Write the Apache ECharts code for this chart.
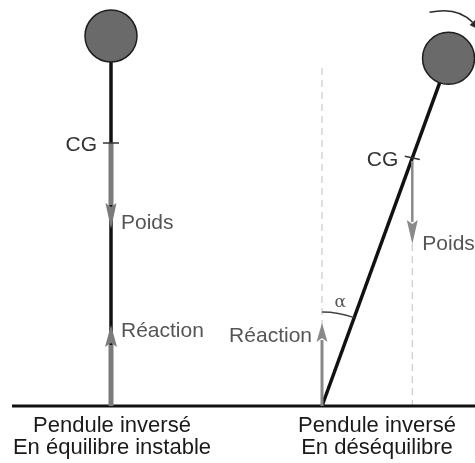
<!DOCTYPE html>
<html><head><meta charset="utf-8">
<script src="https://cdn.jsdelivr.net/npm/echarts@6/dist/echarts.min.js"></script>
<style>html,body{margin:0;padding:0;background:#fff}#c{width:475px;height:463px}</style>
</head><body><div id="c"></div>
<script>
// ---- Data (diagram geometry, in diagram units) ----
const pendulumTitles = ['Pendule inversé', 'Pendule inversé'];
const pendulumStates = ['En équilibre instable', 'En déséquilibre'];
const tiltAngles = [0, 20];          // degrees from vertical
const pivotX = [111, 322];           // where each rod meets the ground
const rodLength = [370, 370];
const cgDistance = [263, 264];       // from pivot along the rod
const weightLength = [86, 86];       // Poids arrow
const reactionLength = [81, 83];     // Réaction arrow
const verticalRefLength = [0, 338];  // dashed vertical reference
const groundY = 406;
const groundSpan = [12, 475];
const forceLabels = ['CG', 'Poids', 'Réaction'];
const angleLabel = 'α';

// ---- Layout / style ----
const FONT = '"Liberation Sans", Arial, Helvetica, sans-serif';
const FS = 21;
const FS_TITLE = 22;
const BOB_R = 26;
const ARC_R = 94;
const forceStyle = [
  {shaft: 5, headLen: 26, headW: 11, color: '#7b7b7b'},
  {shaft: 2.5, headLen: 24, headW: 11, color: '#8a8a8a'}
];
const reactStyle = [
  {shaft: 5, headLen: 22, headW: 12, color: '#7b7b7b'},
  {shaft: 3, headLen: 19, headW: 11, color: '#888888'}
];

const rad = d => d * Math.PI / 180;
const geo = pivotX.map((px, i) => {
  const a = rad(tiltAngles[i]);
  const dx = Math.sin(a), dy = -Math.cos(a);
  const at = d => [px + dx * d, groundY + dy * d];
  return { a, dx, dy, base: [px, groundY], bob: at(rodLength[i]), cg: at(cgDistance[i]) };
});

const chart = echarts.init(document.getElementById('c'), null, {renderer: 'canvas'});

function segSeries(items, style, z) {
  return {
    type: 'custom', coordinateSystem: 'cartesian2d', clip: false, z: z || 2,
    data: items,
    renderItem: (params, api) => {
      const p1 = api.coord([api.value(0), api.value(1)]);
      const p2 = api.coord([api.value(2), api.value(3)]);
      return {type: 'line', shape: {x1: p1[0], y1: p1[1], x2: p2[0], y2: p2[1]},
        style: Object.assign({fill: null}, style)};
    }
  };
}

function arrowSeries(items, styles, z) {
  return {
    type: 'custom', coordinateSystem: 'cartesian2d', clip: false, z: z || 4,
    data: items,
    renderItem: (params, api) => {
      const s = styles[params.dataIndex];
      const p1 = api.coord([api.value(0), api.value(1)]);
      const p2 = api.coord([api.value(2), api.value(3)]);
      const vx = p2[0] - p1[0], vy = p2[1] - p1[1];
      const L = Math.hypot(vx, vy), ux = vx / L, uy = vy / L;
      const bx = p2[0] - ux * s.headLen, by = p2[1] - uy * s.headLen;
      const nx = -uy, ny = ux;
      return {type: 'group', children: [
        {type: 'line', shape: {x1: p1[0], y1: p1[1], x2: bx + ux * 2, y2: by + uy * 2},
          style: {stroke: s.color, lineWidth: s.shaft}},
        {type: 'polygon', shape: {points: [[p2[0], p2[1]],
          [bx + nx * s.headW / 2, by + ny * s.headW / 2],
          [bx + ux * 4, by + uy * 4],
          [bx - nx * s.headW / 2, by - ny * s.headW / 2]]},
          style: {fill: s.color}}
      ]};
    }
  };
}

// Dashed vertical references
const guides = [];
geo.forEach((g, i) => {
  if (verticalRefLength[i] > 0) guides.push([g.base[0], groundY - verticalRefLength[i], g.base[0], groundY]);
});
// continuation of the tilted pendulum's weight line down to the ground
guides.push([geo[1].cg[0], geo[1].cg[1] + weightLength[1], geo[1].cg[0], groundY]);

const rods = geo.map(g => [g.base[0], g.base[1], g.bob[0], g.bob[1]]);
const ticks = geo.map(g => {
  const tx = Math.cos(g.a) * 8, ty = Math.sin(g.a) * 8 * 0.6;
  return [g.cg[0] - tx, g.cg[1] - ty, g.cg[0] + tx, g.cg[1] + ty];
});
const weights = geo.map((g, i) => [g.cg[0], g.cg[1] + (i ? 3 : 0), g.cg[0], g.cg[1] + weightLength[i]]);
const reactions = geo.map((g, i) => [g.base[0], groundY, g.base[0], groundY - reactionLength[i]]);

// Text items
const texts = [];
const tcol = {cg: '#333', force: '#555', title: '#1a1a1a'};
geo.forEach((g, i) => {
  texts.push({value: [g.cg[0] - 14, g.cg[1] + 2], t: forceLabels[0], align: 'right', fill: tcol.cg, fs: FS});
  const wTip = g.cg[1] + weightLength[i];
  texts.push({value: [g.cg[0] + 10, wTip + (i ? 0 : -6)], t: forceLabels[1], align: 'left', fill: tcol.force, fs: FS});
  const rTip = groundY - reactionLength[i];
  if (i === 0) texts.push({value: [g.base[0] + 10, rTip + 6], t: forceLabels[2], align: 'left', fill: tcol.force, fs: FS});
  else texts.push({value: [g.base[0] - 10, rTip + 13], t: forceLabels[2], align: 'right', fill: tcol.force, fs: FS});
});
const titleCenters = [112, 377];
pendulumTitles.forEach((t, i) => {
  texts.push({value: [titleCenters[i], 426], t: t, align: 'center', fill: tcol.title, fs: FS_TITLE});
  texts.push({value: [titleCenters[i], 448], t: pendulumStates[i], align: 'center', fill: tcol.title, fs: FS_TITLE});
});

const series = [
  segSeries(guides, {stroke: '#cfcfcf', lineWidth: 1.3, lineDash: [7, 5]}, 1),
  segSeries([[groundSpan[0], groundY, groundSpan[1], groundY]], {stroke: '#111', lineWidth: 3}, 3),
  segSeries(rods, {stroke: '#111', lineWidth: 3.5}, 3),
  arrowSeries(weights, forceStyle, 4),
  arrowSeries(reactions, reactStyle, 4),
  segSeries(ticks, {stroke: '#333', lineWidth: 1.5}, 5),
  { // bobs
    type: 'custom', coordinateSystem: 'cartesian2d', clip: false, z: 6,
    data: geo.map(g => g.bob),
    renderItem: (params, api) => {
      const c = api.coord([api.value(0), api.value(1)]);
      const r = api.size([BOB_R, BOB_R])[0];
      return {type: 'circle', shape: {cx: c[0], cy: c[1], r: r},
        style: {fill: '#6a6a6a', stroke: '#1e1e1e', lineWidth: 1.5}};
    }
  },
  { // angle arc and alpha
    type: 'custom', coordinateSystem: 'cartesian2d', clip: false, z: 5,
    data: [[geo[1].base[0], groundY, tiltAngles[1]]],
    renderItem: (params, api) => {
      const c = api.coord([api.value(0), api.value(1)]);
      const r = api.size([ARC_R, ARC_R])[0];
      const a = rad(api.value(2));
      const mid = -Math.PI / 2 + a / 2;
      return {type: 'group', children: [
        {type: 'arc', shape: {cx: c[0], cy: c[1], r: r, startAngle: -Math.PI / 2, endAngle: -Math.PI / 2 + a, clockwise: true},
          style: {stroke: '#444', lineWidth: 1.5, fill: null}},
        {type: 'text', x: c[0] + Math.cos(mid) * (r + 11), y: c[1] + Math.sin(mid) * (r + 11),
          style: {text: angleLabel, fontSize: 17, fontFamily: '"DejaVu Serif", serif', fill: '#555', align: 'center', verticalAlign: 'middle'}}
      ]};
    }
  },
  { // rotation arrow near the tilted bob
    type: 'custom', coordinateSystem: 'cartesian2d', clip: false, z: 5,
    data: [[geo[1].bob[0], geo[1].bob[1]]],
    renderItem: (params, api) => {
      const c = api.coord([api.value(0), api.value(1)]);
      const s = [c[0] - 19, c[1] - 46], cp = [c[0] + 9, c[1] - 52], e = [c[0] + 24, c[1] - 36];
      const ux = (e[0] - cp[0]), uy = (e[1] - cp[1]); const L = Math.hypot(ux, uy);
      const dx = ux / L, dy = uy / L, nx = -dy, ny = dx;
      const tip = [e[0] + dx * 11, e[1] + dy * 11];
      return {type: 'group', children: [
        {type: 'bezierCurve', shape: {x1: s[0], y1: s[1], x2: e[0], y2: e[1], cpx1: cp[0], cpy1: cp[1]},
          style: {stroke: '#2a2a2a', lineWidth: 1.6, fill: null}},
        {type: 'polygon', shape: {points: [tip, [e[0] + nx * 4, e[1] + ny * 4], [e[0] - nx * 4, e[1] - ny * 4]]},
          style: {fill: '#2a2a2a'}}
      ]};
    }
  },
  { // texts
    type: 'custom', coordinateSystem: 'cartesian2d', clip: false, z: 7,
    data: texts.map(t => t.value),
    renderItem: (params, api) => {
      const d = texts[params.dataIndex];
      const c = api.coord([api.value(0), api.value(1)]);
      return {type: 'text', x: c[0], y: c[1],
        style: {text: d.t, fontSize: d.fs, fontFamily: FONT, fill: d.fill, align: d.align, verticalAlign: 'middle'}};
    }
  }
];

chart.setOption({
  animation: false,
  backgroundColor: '#ffffff',
  grid: {left: 0, right: 0, top: 0, bottom: 0},
  xAxis: {type: 'value', min: 0, max: 475, show: false},
  yAxis: {type: 'value', min: 0, max: 463, inverse: true, show: false},
  series: series
});
</script></body></html>
